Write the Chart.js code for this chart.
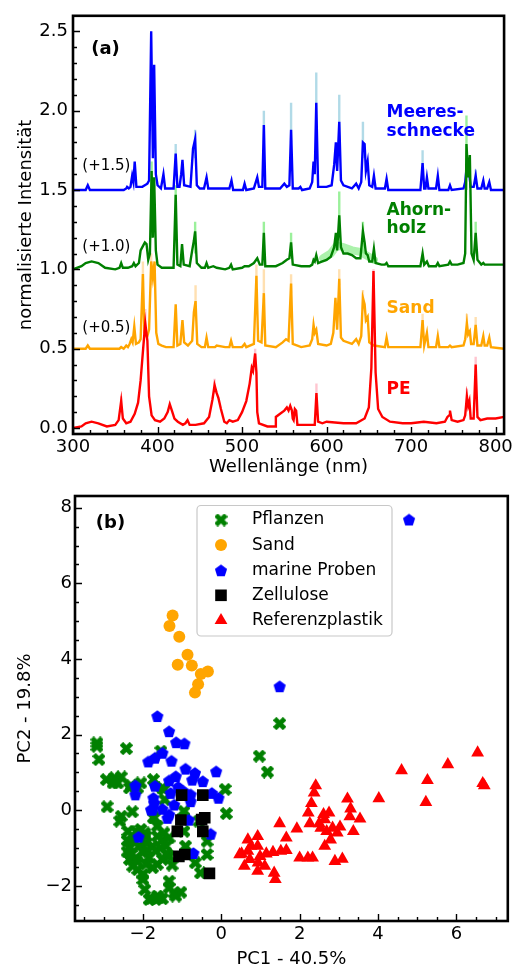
<!DOCTYPE html>
<html>
<head>
<meta charset="utf-8">
<script src="https://cdn.jsdelivr.net/npm/chart.js@4.4.1/dist/chart.umd.min.js"></script>
<style>
  html, body { margin: 0; padding: 0; background: #fff; }
  #wrap { position: relative; width: 516px; height: 968px; }
  canvas { position: absolute; left: 0; }
</style>
</head>
<body>
<div id="wrap">
  <canvas id="spectra" width="516" height="480" style="top:0"></canvas>
  <canvas id="pca" width="516" height="488" style="top:480px"></canvas>
</div>
<script>
// ---------- (a) spectra: [wavelength nm, intensity incl. offset] ----------
const meeres = [[300,1.50],[315,1.50],[317.5,1.53],[320,1.50],[360,1.50],[363,1.51],[364,1.52],[366,1.51],[368,1.52],[370,1.59],[371.5,1.55],[373,1.68],[375,1.52],[382,1.52],[388,1.54],[390,1.56],[392.5,2.50],[394.5,1.70],[396,2.29],[398,1.60],[400,1.53],[404,1.51],[407,1.60],[409,1.51],[419,1.51],[421.5,1.73],[423.5,1.52],[426,1.52],[428,1.60],[429.5,1.69],[431.5,1.53],[439,1.52],[442,1.76],[444.5,1.82],[446.5,1.53],[450,1.51],[455,1.51],[458,1.58],[460,1.51],[485,1.51],[487.5,1.56],[489.5,1.50],[501,1.50],[503,1.54],[505,1.50],[514,1.51],[518,1.58],[520,1.52],[524,1.52],[525.8,1.91],[527.5,1.51],[545,1.51],[550,1.54],[553,1.52],[556,1.53],[558,1.88],[560,1.51],[567,1.51],[569,1.52],[571,1.50],[580,1.51],[583,1.55],[584.6,1.68],[586,1.60],[587.8,2.05],[590,1.52],[600,1.52],[606,1.53],[609,1.66],[611,1.80],[612.5,1.62],[615,1.93],[617,1.56],[620,1.53],[630,1.51],[635,1.54],[638,1.51],[641,1.55],[643,1.80],[645,1.79],[646.5,1.62],[648.6,1.68],[650.5,1.53],[654,1.52],[656,1.59],[658,1.51],[669,1.51],[671,1.57],[673,1.50],[711,1.50],[713.6,1.67],[715.5,1.51],[717,1.51],[718.7,1.58],[720.5,1.51],[729.5,1.51],[731.6,1.59],[733.5,1.50],[744,1.50],[746,1.53],[748,1.50],[762,1.51],[764,1.55],[766,1.66],[767.3,1.60],[768.6,1.61],[770.5,1.52],[774,1.52],[776.4,1.59],[778.5,1.51],[783,1.51],[785.4,1.56],[787,1.51],[790,1.51],[792.5,1.55],[794.5,1.50],[810,1.50]];

const ahorn = [[300,1.00],[310,1.02],[315,1.04],[322,1.05],[330,1.04],[338,1.01],[350,1.00],[355,1.01],[357,1.04],[359,1.01],[365,1.01],[370,1.02],[372,1.04],[374,1.02],[378,1.04],[380,1.12],[383,1.15],[385,1.17],[387,1.16],[389,1.06],[391,1.10],[393,1.62],[394.5,1.20],[396,1.58],[398,1.12],[400,1.03],[405,1.01],[412,1.01],[419,1.01],[421.5,1.47],[423.5,1.03],[427,1.02],[429,1.16],[431,1.03],[438,1.02],[441,1.12],[443,1.18],[444.5,1.24],[446.5,1.04],[452,1.01],[456,1.01],[458,1.04],[460,1.01],[466,1.02],[470,1.01],[480,1.00],[485,1.01],[487,1.03],[489,1.00],[500,1.01],[503,1.02],[508,1.02],[514,1.04],[518,1.07],[521,1.03],[524,1.03],[525.8,1.23],[527.5,1.02],[540,1.02],[548,1.04],[553,1.06],[556,1.07],[558,1.17],[560,1.03],[570,1.02],[580,1.02],[583,1.03],[584.6,1.06],[586,1.05],[587.8,1.09],[590,1.04],[595,1.05],[600,1.06],[605,1.08],[609,1.14],[611,1.23],[612.5,1.12],[615,1.34],[617,1.14],[620,1.10],[625,1.10],[630,1.09],[635,1.07],[640,1.07],[643,1.24],[645,1.17],[646.5,1.10],[648.6,1.09],[650.5,1.05],[654,1.05],[656,1.13],[658,1.04],[665,1.03],[669,1.03],[671,1.04],[673,1.02],[690,1.02],[700,1.02],[711,1.02],[713.6,1.10],[715.5,1.03],[718.7,1.05],[721,1.02],[729.5,1.02],[731.6,1.04],[733.5,1.02],[744,1.03],[746,1.05],[748,1.03],[755,1.03],[762,1.04],[764,1.10],[765.5,1.79],[767.6,1.58],[769.5,1.72],[771.5,1.10],[774,1.06],[776.4,1.23],[778.5,1.06],[783,1.03],[785.4,1.04],[787,1.03],[792.5,1.03],[800,1.03],[810,1.03]];

const sand = [[300,0.50],[315,0.50],[317.5,0.52],[320,0.50],[355,0.50],[357,0.51],[360,0.50],[363,0.52],[365,0.51],[367,0.53],[369,0.56],[370.5,0.54],[372.5,0.64],[374.5,0.53],[378,0.54],[380,0.56],[382.7,0.97],[384.5,0.60],[386,0.58],[388,0.58],[390,0.62],[392.5,1.05],[394.5,0.95],[396.5,1.05],[398.5,0.60],[401,0.53],[405,0.52],[410,0.51],[419,0.51],[421.5,0.78],[423.5,0.52],[427,0.53],[429.5,0.68],[431.5,0.54],[436,0.52],[441,0.55],[443,0.73],[445,0.80],[447,0.53],[452,0.51],[456,0.51],[458,0.57],[460,0.51],[468,0.51],[470,0.52],[480,0.51],[485,0.51],[487,0.55],[489,0.51],[500,0.51],[503,0.53],[505,0.51],[514,0.53],[517,0.96],[519,0.55],[523,0.54],[525.8,0.85],[527.5,0.52],[540,0.51],[548,0.54],[552,0.56],[555,0.55],[558,0.91],[560,0.53],[570,0.51],[580,0.52],[583,0.56],[584.6,0.65],[586,0.60],[587.8,0.62],[590,0.53],[600,0.52],[605,0.53],[608,0.60],[610.5,0.82],[612.5,0.62],[615,0.94],[617,0.57],[620,0.55],[630,0.53],[635,0.56],[638,0.53],[641,0.58],[643,0.82],[645,0.78],[646.5,0.68],[648.6,0.70],[650.5,0.54],[656,0.52],[669,0.51],[671,0.57],[673,0.51],[711,0.51],[713.6,0.68],[715.5,0.52],[718.7,0.60],[720.5,0.51],[729.5,0.51],[731.6,0.58],[733.5,0.51],[744,0.51],[746,0.52],[748,0.51],[762,0.52],[764,0.56],[766,0.66],[767.5,0.59],[769.5,0.61],[771,0.53],[774,0.53],[776.4,0.65],[778.5,0.52],[783,0.52],[785.4,0.58],[787,0.52],[790,0.52],[792.5,0.57],[794.5,0.51],[810,0.50]];

const pe = [[300,0.00],[310,0.01],[315,0.03],[322,0.04],[330,0.03],[340,0.01],[350,0.02],[354,0.05],[357,0.17],[359,0.06],[363,0.03],[368,0.04],[373,0.09],[377,0.16],[380,0.30],[383,0.50],[385.5,0.66],[388,0.55],[390,0.20],[393,0.08],[397,0.05],[403,0.04],[408,0.06],[412,0.10],[414.5,0.15],[417,0.11],[420,0.06],[424,0.04],[430,0.02],[433,0.03],[435.5,0.05],[438,0.02],[445,0.02],[455,0.03],[461,0.07],[465,0.18],[467.5,0.27],[470,0.22],[472,0.19],[475,0.12],[479,0.04],[482,0.03],[485,0.05],[489,0.04],[495,0.05],[500,0.10],[505,0.17],[509,0.28],[511.5,0.38],[513,0.36],[515.5,0.47],[517,0.35],[518,0.10],[520,0.03],[530,0.01],[539,0.01],[540,0.07],[545,0.09],[550,0.11],[553,0.13],[555,0.11],[557,0.14],[559,0.11],[560,0.06],[561,0.05],[562.5,0.12],[564,0.11],[565.5,0.02],[575,0.02],[586,0.02],[588,0.22],[590,0.04],[595,0.03],[600,0.04],[620,0.03],[635,0.03],[645,0.06],[650,0.13],[653,0.38],[655.5,0.99],[658,0.35],[661,0.12],[666,0.07],[675,0.04],[690,0.03],[700,0.03],[715,0.04],[730,0.03],[740,0.04],[743,0.07],[745,0.08],[746,0.11],[748,0.05],[755,0.04],[762,0.05],[764,0.08],[766,0.20],[767.5,0.14],[769,0.17],[770.5,0.06],[774,0.06],[776.4,0.40],[778.5,0.07],[782,0.05],[790,0.06],[800,0.06],[810,0.07]];

// spread (std) spikes drawn in light colours: [nm, low, high]
const meeresBand = [[421.5,1.6,1.79],[444.5,1.7,1.88],[525.8,1.8,2.0],[558,1.8,2.05],[587.8,1.9,2.24],[615,1.8,2.10],[643,1.7,1.93],[713.6,1.6,1.75],[766,1.6,1.72],[776.4,1.55,1.63]];
const ahornBand = [[393,1.2,1.68],[421.5,1.3,1.53],[444.5,1.1,1.3],[525.8,1.1,1.3],[558,1.1,1.23],[615,1.2,1.49],[643,1.1,1.3],[765.5,1.5,1.97],[776.4,1.1,1.3]];
const ahornBroad = [[596,1.07],[605,1.10],[612,1.15],[620,1.14],[630,1.12],[640,1.11],[650,1.08],[656,1.06]];
const sandBand = [[382.7,0.9,1.05],[392.5,0.9,1.1],[445,0.7,0.9],[517,0.9,1.03],[525.8,0.8,1.0],[558,0.85,0.97],[615,0.9,1.0],[643,0.75,0.87],[713.6,0.6,0.72],[766,0.6,0.72],[776.4,0.6,0.7]];
const peBand = [[357,0.1,0.2],[385.5,0.6,0.75],[467.5,0.22,0.31],[515.5,0.4,0.5],[588,0.2,0.28],[655.5,0.9,1.0],[766,0.15,0.25],[776.4,0.35,0.45]];

const specXTicks = [300, 400, 500, 600, 700, 800];
const specYTicks = [0, 0.5, 1.0, 1.5, 2.0, 2.5];

// ---------- (b) PCA scores: [PC1, PC2] ----------
const pflanzen = [[1.49,2.29],[0.97,1.43],[1.18,1.01],[-3.17,1.78],[-3.17,1.69],[-3.12,1.34],[-2.42,1.63],[-1.54,1.56],[-2.93,0.81],[-2.72,0.86],[-2.55,0.88],[-2.76,0.72],[-2.64,0.72],[-2.30,0.65],[-2.05,0.72],[-2.13,0.59],[-1.73,0.81],[-1.50,0.59],[-1.44,0.28],[0.10,0.55],[0.13,-0.09],[-2.91,0.09],[-2.27,-0.04],[-2.55,-0.16],[-2.59,-0.29],[-1.73,-0.20],[-1.63,-0.42],[-2.38,-0.56],[-2.17,-0.56],[-2.05,-0.51],[-0.95,-0.56],[-1.50,-0.78],[-1.33,-0.73],[-1.41,-0.95],[-1.92,-0.86],[-1.75,-0.95],[-1.67,-1.08],[-1.88,-1.08],[-2.34,-1.00],[-2.30,-1.17],[-2.34,-1.30],[-2.17,-1.26],[-2.26,-1.48],[-2.13,-1.57],[-2.00,-1.83],[-2.00,-1.70],[-1.92,-1.43],[-1.75,-1.52],[-1.63,-1.43],[-1.50,-1.30],[-1.33,-1.22],[-1.79,-2.34],[-1.67,-2.36],[-1.50,-2.34],[-1.63,-2.27],[-1.33,-1.88],[-1.20,-2.19],[-1.03,-2.17],[-1.33,-2.05],[-1.16,-2.27],[-0.66,-1.39],[-0.53,-1.66],[-0.36,-1.17],[-0.36,-0.82],[-0.91,-0.95],[-0.95,-0.20],[-0.57,-0.29],[-1.46,0.55],[-2.34,0.59],[-1.92,-0.69],[-1.63,-0.69],[-1.46,-0.60],[-0.95,-0.03],[-1.71,-0.20],[-2.40,-0.80],[-2.25,-0.80],[-2.10,-0.95],[-2.00,-1.10],[-1.85,-1.25],[-2.15,-1.35],[-1.95,-0.60],[-1.55,-1.00],[-1.40,-1.15],[-1.25,-1.45],[-2.40,-1.10],[-1.95,-2.10],[-1.84,-2.36],[-1.59,-2.32]];
const sandPts = [[-1.24,5.15],[-1.32,4.87],[-1.07,4.59],[-0.86,4.11],[-1.11,3.85],[-0.75,3.83],[-0.52,3.60],[-0.34,3.67],[-0.59,3.33],[-0.67,3.11]];
const marine = [[4.79,7.69],[1.49,3.28],[-1.63,2.49],[-1.33,2.09],[-1.15,1.80],[-0.94,1.77],[-1.50,1.52],[-1.27,1.31],[-1.86,1.29],[-1.69,1.39],[-0.13,1.03],[-0.91,1.10],[-0.67,0.99],[-1.16,0.90],[-1.33,0.79],[-0.47,0.77],[-0.74,0.81],[-2.19,0.66],[-2.19,0.42],[-1.69,0.65],[-1.29,0.46],[-0.95,0.50],[-0.24,0.46],[-0.07,0.33],[-1.73,0.33],[-1.71,0.20],[-0.78,0.24],[-1.20,0.15],[-1.50,0.04],[-1.75,0.02],[-0.78,0.42],[-1.33,-0.11],[-1.37,-0.20],[-0.83,-0.25],[-0.27,-0.62],[-2.11,-0.70],[-0.71,-1.13],[-1.79,0.02],[-1.10,0.62]];
const zellulose = [[-1.01,0.40],[-0.47,0.40],[-1.03,-0.26],[-1.12,-0.56],[-0.42,-0.20],[-0.50,-0.25],[-0.47,-0.56],[-1.08,-1.22],[-0.93,-1.17],[-0.30,-1.67]];
const referenz = [[6.54,1.52],[5.78,1.21],[4.60,1.05],[5.26,0.79],[6.67,0.71],[6.71,0.65],[4.02,0.31],[5.22,0.21],[2.41,0.65],[2.37,0.46],[2.30,0.18],[2.22,-0.07],[3.22,0.30],[3.30,0.04],[3.28,-0.17],[3.54,-0.23],[3.37,-0.56],[2.61,-0.11],[2.75,-0.07],[2.64,-0.25],[2.50,-0.35],[2.54,-0.47],[2.69,-0.56],[2.84,-0.47],[3.03,-0.44],[2.96,-0.60],[2.79,-0.78],[2.64,-0.95],[2.90,-1.35],[3.09,-1.29],[2.26,-0.35],[1.93,-0.49],[1.49,-0.35],[1.66,-0.73],[2.00,-1.26],[2.21,-1.26],[2.33,-1.26],[1.66,-1.06],[1.52,-1.08],[1.32,-1.11],[0.93,-0.69],[0.68,-0.78],[0.76,-0.95],[0.93,-0.95],[0.68,-1.08],[0.47,-1.17],[0.73,-1.30],[0.99,-1.22],[1.15,-1.15],[0.59,-1.48],[0.94,-1.39],[0.93,-1.61],[1.35,-1.66],[1.38,-1.83],[0.52,-1.15],[1.11,-1.48]];

const pcaXTicks = [-2, 0, 2, 4, 6];
const pcaYTicks = [-2, 0, 2, 4, 6, 8];
const legendNames = ['Pflanzen', 'Sand', 'marine Proben', 'Zellulose', 'Referenzplastik'];

// ---------- helpers ----------
const FONT = "'DejaVu Sans', 'Liberation Sans', sans-serif";
const xy = arr => arr.map(p => ({x: p[0], y: p[1]}));
const spikes = arr => arr.flatMap(p => [{x: p[0], y: p[1]}, {x: p[0], y: p[2]}, {x: p[0] + 0.01, y: null}]);
const minorTicks = (lo, hi, step) => {
  const out = [];
  for (let v = Math.ceil(lo / step) * step; v <= hi + 1e-9; v += step) out.push(Math.round(v * 1000) / 1000);
  return out;
};
const minus = s => String(s).replace('-', '\u2212');

// inward ticks on left/bottom plus the heavy black frame
const frameTicks = {
  id: 'frameTicks',
  afterDatasetsDraw(chart, args, o) {
    const {ctx, chartArea: a, scales: {x, y}} = chart;
    ctx.save();
    ctx.strokeStyle = '#000';
    ctx.lineWidth = 1.4;
    ctx.beginPath();
    const xt = (vals, len) => vals.forEach(v => {
      const p = Math.round(x.getPixelForValue(v)) + 0.5;
      if (p < a.left || p > a.right) return;
      ctx.moveTo(p, a.bottom); ctx.lineTo(p, a.bottom - len);
    });
    const yt = (vals, len) => vals.forEach(v => {
      const p = Math.round(y.getPixelForValue(v)) + 0.5;
      if (p < a.top || p > a.bottom) return;
      ctx.moveTo(a.left, p); ctx.lineTo(a.left + len, p);
    });
    xt(o.xMinor, 4); yt(o.yMinor, 4);
    xt(o.xMajor, 7); yt(o.yMajor, 7);
    ctx.stroke();
    ctx.lineWidth = 2.6;
    ctx.strokeRect(a.left, a.top, a.right - a.left, a.bottom - a.top);
    ctx.restore();
  }
};

// text placed in data coordinates
const notes = {
  id: 'notes',
  afterDraw(chart, args, o) {
    const {ctx, scales: {x, y}} = chart;
    ctx.save();
    ctx.textBaseline = 'middle';
    (o.items || []).forEach(t => {
      ctx.font = t.font;
      ctx.fillStyle = t.color || '#000';
      ctx.textAlign = 'left';
      ctx.fillText(t.text, x.getPixelForValue(t.x), y.getPixelForValue(t.y));
    });
    ctx.restore();
  }
};

function axis(min, max, ticks, fmt, title, titlePad, labelPad, fitProp, fitVal) {
  return {
    type: 'linear', min, max,
    grid: {display: false, drawTicks: false},
    border: {display: false},
    afterBuildTicks: s => { s.ticks = ticks.map(v => ({value: v})); },
    afterFit: s => { s[fitProp] = fitVal; },
    ticks: {color: '#000', font: {family: FONT, size: 18}, padding: labelPad, callback: fmt, maxRotation: 0, autoSkip: false},
    title: {display: true, text: title, color: '#000', font: {family: FONT, size: 18, lineHeight: 1}, padding: titlePad}
  };
}

// ---------- chart (a) ----------
const lineDs = (label, data, color, width, order, extra) => Object.assign({
  label, data, borderColor: color, backgroundColor: color, borderWidth: width,
  pointRadius: 0, tension: 0, fill: false, spanGaps: false, order
}, extra || {});

new Chart(document.getElementById('spectra'), {
  type: 'line',
  data: {
    datasets: [
      lineDs('PE', xy(pe), '#ff0000', 2.4, 1),
      lineDs('Sand', xy(sand), '#ffa500', 2.4, 2),
      lineDs('Ahornholz', xy(ahorn), '#008000', 2.4, 3),
      lineDs('Meeresschnecke', xy(meeres), '#0000ff', 2.4, 4),
      lineDs('Meeres band', spikes(meeresBand), 'rgba(173,216,230,0.95)', 2.4, 10),
      lineDs('Ahorn band', spikes(ahornBand), 'rgba(144,238,144,0.9)', 2.4, 10),
      lineDs('Ahorn broad', xy(ahornBroad), 'rgba(144,238,144,0.75)', 8, 11, {borderCapStyle: 'round', borderJoinStyle: 'round'}),
      lineDs('Sand band', spikes(sandBand), 'rgba(255,222,173,0.95)', 2.4, 10),
      lineDs('PE band', spikes(peBand), 'rgba(255,192,203,0.9)', 2.4, 10)
    ]
  },
  options: {
    responsive: false, animation: false, devicePixelRatio: 1,
    layout: {padding: {top: 12, right: 10, left: 0, bottom: 0}},
    plugins: {
      legend: {display: false}, tooltip: {enabled: false},
      frameTicks: {xMajor: specXTicks, xMinor: minorTicks(300, 810, 20), yMajor: specYTicks, yMinor: minorTicks(0, 2.6, 0.1)},
      notes: {items: [
        {text: '(a)', x: 321.5, y: 2.385, font: 'bold 18px ' + FONT},
        {text: '(+1.5)', x: 311, y: 1.65, font: '15px ' + FONT},
        {text: '(+1.0)', x: 311, y: 1.139, font: '15px ' + FONT},
        {text: '(+0.5)', x: 311, y: 0.628, font: '15px ' + FONT},
        {text: 'Meeres-', x: 671, y: 1.99, font: 'bold 17px ' + FONT, color: '#0000ff'},
        {text: 'schnecke', x: 671, y: 1.87, font: 'bold 17px ' + FONT, color: '#0000ff'},
        {text: 'Ahorn-', x: 671, y: 1.37, font: 'bold 17px ' + FONT, color: '#008000'},
        {text: 'holz', x: 671, y: 1.255, font: 'bold 17px ' + FONT, color: '#008000'},
        {text: 'Sand', x: 671, y: 0.756, font: 'bold 17px ' + FONT, color: '#ffa500'},
        {text: 'PE', x: 671, y: 0.244, font: 'bold 17px ' + FONT, color: '#ff0000'}
      ]}
    },
    scales: {
      x: axis(300, 810, specXTicks, v => String(v), 'Wellenlänge (nm)', {top: 0, bottom: 4}, 3, 'height', 46),
      y: axis(-0.0375, 2.598, specYTicks, v => v.toFixed(1), 'normalisierte Intensität', {top: 17, bottom: 0}, 5, 'width', 73)
    }
  },
  plugins: [frameTicks, notes]
});

// ---------- chart (b) ----------
function markerCanvas(draw, size) {
  const c = document.createElement('canvas');
  c.width = size; c.height = size;
  draw(c.getContext('2d'), size / 2);
  return c;
}
const xMark = markerCanvas((g, c) => {
  g.fillStyle = '#008000';
  g.translate(c, c);
  [Math.PI / 4, -Math.PI / 4].forEach(r => { g.save(); g.rotate(r); g.fillRect(-7, -2.4, 14, 4.8); g.restore(); });
}, 13);
const pentaMark = markerCanvas((g, c) => {
  g.fillStyle = '#0000ff';
  g.beginPath();
  for (let i = 0; i < 5; i++) {
    const ang = -Math.PI / 2 + i * 2 * Math.PI / 5;
    const px = c + 6.4 * Math.cos(ang), py = c + 0.7 + 6.4 * Math.sin(ang);
    i ? g.lineTo(px, py) : g.moveTo(px, py);
  }
  g.closePath(); g.fill();
}, 14);

const markerStyles = [
  {pointStyle: xMark, radius: 6.5, color: '#008000'},
  {pointStyle: 'circle', radius: 6, color: '#ffa500'},
  {pointStyle: pentaMark, radius: 7, color: '#0000ff'},
  {pointStyle: 'rect', radius: 8.2, color: '#000000'},
  {pointStyle: 'triangle', radius: 7.4, color: '#ff0000'}
];
const scatterDs = (i, pts, order) => ({
  label: legendNames[i], data: xy(pts), order,
  pointStyle: markerStyles[i].pointStyle, pointRadius: markerStyles[i].radius,
  backgroundColor: markerStyles[i].color, borderColor: markerStyles[i].color, borderWidth: 0
});

const boxLegend = {
  id: 'boxLegend',
  afterDraw(chart) {
    const {ctx, chartArea: a} = chart;
    const bx = a.left + 122, by = a.top + 9.5, bw = 195, bh = 130.5;
    ctx.save();
    ctx.fillStyle = 'rgba(255,255,255,0.85)';
    ctx.strokeStyle = '#c8c8c8';
    ctx.lineWidth = 1.2;
    ctx.beginPath();
    ctx.roundRect(bx, by, bw, bh, 4);
    ctx.fill(); ctx.stroke();
    ctx.font = '17px ' + FONT;
    ctx.textBaseline = 'middle';
    legendNames.forEach((name, i) => {
      const cy = by + 14.5 + i * 25.1, cx = bx + 24;
      const m = markerStyles[i];
      ctx.fillStyle = m.color;
      if (m.pointStyle instanceof HTMLCanvasElement) {
        ctx.drawImage(m.pointStyle, cx - m.pointStyle.width / 2, cy - m.pointStyle.height / 2);
      } else if (m.pointStyle === 'circle') {
        ctx.beginPath(); ctx.arc(cx, cy, m.radius, 0, 2 * Math.PI); ctx.fill();
      } else if (m.pointStyle === 'rect') {
        const s = m.radius * Math.SQRT1_2;
        ctx.fillRect(cx - s, cy - s, 2 * s, 2 * s);
      } else {
        const r = m.radius;
        ctx.beginPath();
        ctx.moveTo(cx, cy - r);
        ctx.lineTo(cx + r * Math.cos(Math.PI / 6), cy + r / 2);
        ctx.lineTo(cx - r * Math.cos(Math.PI / 6), cy + r / 2);
        ctx.closePath(); ctx.fill();
      }
      ctx.fillStyle = '#000';
      ctx.fillText(name, bx + 55, cy);
    });
    ctx.restore();
  }
};

new Chart(document.getElementById('pca'), {
  type: 'scatter',
  data: {
    datasets: [
      scatterDs(0, pflanzen, 5),
      scatterDs(1, sandPts, 4),
      scatterDs(2, marine, 3),
      scatterDs(3, zellulose, 2),
      scatterDs(4, referenz, 1)
    ]
  },
  options: {
    responsive: false, animation: false, devicePixelRatio: 1,
    layout: {padding: {top: 16, right: 4, left: 0, bottom: 0}},
    plugins: {
      legend: {display: false}, tooltip: {enabled: false},
      frameTicks: {xMajor: pcaXTicks, xMinor: minorTicks(-3.73, 7.31, 0.5), yMajor: pcaYTicks, yMinor: minorTicks(-2.93, 8.31, 0.5)},
      notes: {items: [{text: '(b)', x: -3.2, y: 7.6, font: 'bold 18px ' + FONT}]}
    },
    scales: {
      x: axis(-3.73, 7.31, pcaXTicks, v => minus(v), 'PC1 - 40.5%', {top: 0, bottom: 0}, 3, 'height', 47),
      y: axis(-2.93, 8.31, pcaYTicks, v => minus(v), 'PC2 - 19.8%', {top: 16, bottom: 0}, 3, 'width', 75)
    }
  },
  plugins: [frameTicks, notes, boxLegend]
});
</script>
</body>
</html>
